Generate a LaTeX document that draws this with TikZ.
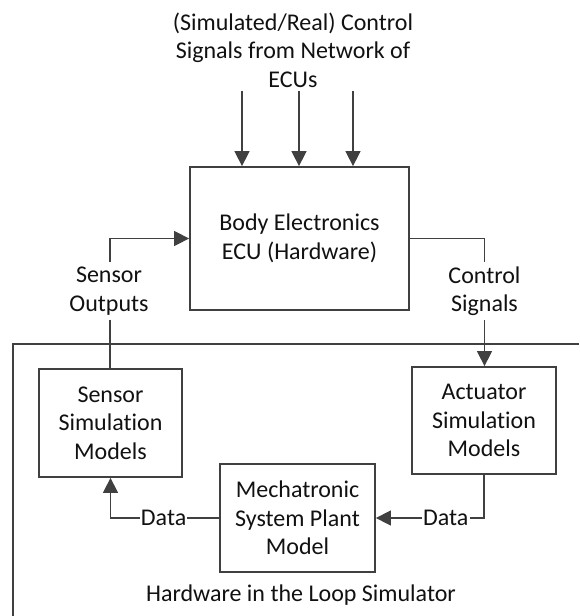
\documentclass[tikz,border=0pt]{standalone}
\usepackage{fontspec}
\setmainfont{Carlito}[Ligatures=NoCommon]
\usetikzlibrary{arrows.meta}
\definecolor{ln}{HTML}{404040}
\definecolor{txt}{HTML}{111111}
\begin{document}
\begin{tikzpicture}[x=1pt,y=-1pt,
  every node/.style={font=\fontsize{24}{28.5}\selectfont, text=txt},
  block/.style={draw=ln, line width=1.8pt, align=center, inner sep=0pt},
  caption/.style={align=center, inner sep=0pt},
  tag/.style={inner sep=1pt},
  wire/.style={draw=ln, line width=1.5pt},
  flow/.style={wire, -{Triangle[length=15pt,width=15pt]}},
]
\useasboundingbox (0,0) rectangle (579,616);

% ECU under test and its inputs
\node[block, minimum width=219pt, minimum height=143pt] (ecu) at (299.5,238.5)
  {Body Electronics\\ECU (Hardware)};
\node[caption] (net) at (293,50)
  {(Simulated/Real) Control\\Signals from Network of\\ECUs};
\coordinate (t1) at (242,91);
\coordinate (t2) at (299,91);
\coordinate (t3) at (353,91);
\draw[flow] (t1) -- (t1 |- ecu.north);
\draw[flow] (t2) -- (t2 |- ecu.north);
\draw[flow] (t3) -- (t3 |- ecu.north);

% signal labels between ECU and simulator
\node[caption] (sout) at (109,291) {Sensor\\Outputs};
\node[caption] (csig) at (484.5,291) {Control\\Signals};
\coordinate (soTop) at (110,262);
\coordinate (soBot) at (110,320);
\coordinate (csTop) at (484.5,262);
\coordinate (csBot) at (484.5,320);

% HIL simulator frame
\coordinate (f1) at (579,344);
\coordinate (f2) at (13,344);
\coordinate (f3) at (13,616);
\draw[wire] (f1) -- (f2) -- (f3);
\node[caption] (hil) at (301,595) {Hardware in the Loop Simulator};

% simulation models
\node[block, minimum width=143pt, minimum height=108pt] (sensor) at (110.5,423)
  {Sensor\\Simulation\\Models};
\node[block, minimum width=144pt, minimum height=107pt] (act) at (484,420.5)
  {Actuator\\Simulation\\Models};
\node[block, minimum width=155pt, minimum height=108pt] (mech) at (297.5,518)
  {Mechatronic\\System Plant\\Model};
\node[tag] (dataL) at (163.6,518) {Data};
\node[tag] (dataR) at (445.7,518) {Data};

% connectors
\draw[flow] (soTop) |- (ecu.west);
\draw[wire] (soBot) -- (soBot |- sensor.north);
\draw[wire] (ecu.east) -| (csTop);
\draw[flow] (csBot) -- (csBot |- act.north);
\draw[wire] (mech.west) -- (dataL.east);
\draw[flow] (dataL.west) -| (sensor.south);
\draw[wire] (act.south) |- (dataR.east);
\draw[flow] (dataR.west) -- (mech.east);
\end{tikzpicture}
\end{document}
